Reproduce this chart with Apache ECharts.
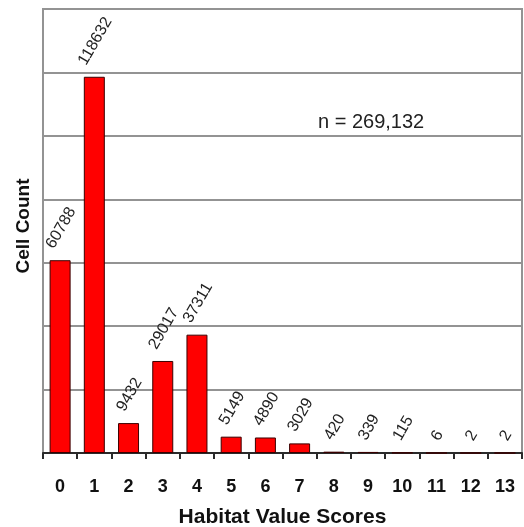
<!DOCTYPE html>
<html>
<head>
<meta charset="utf-8">
<title>Habitat Value Scores</title>
<script src="https://cdn.jsdelivr.net/npm/echarts@6/dist/echarts.min.js"></script>
<style>
  html, body { margin: 0; padding: 0; background: #ffffff; }
  #chart { width: 524px; height: 527px; }
</style>
</head>
<body>
<div id="chart"></div>
<script>
// Habitat value score categories and the number of cells in each
const categories = ['0', '1', '2', '3', '4', '5', '6', '7', '8', '9', '10', '11', '12', '13'];
const cellCounts = [60788, 118632, 9432, 29017, 37311, 5149, 4890, 3029, 420, 339, 115, 6, 2, 2];

// Value axis range (no tick labels are shown, only gridlines)
const yMin = 0;
const yMax = 140000;
const yInterval = 20000;

const xAxisTitle = 'Habitat Value Scores';
const yAxisTitle = 'Cell Count';
const totalLabel = 'n = 269,132';

const FONT = '"Liberation Sans", Arial, sans-serif';
const VALUE_FONT_SIZE = 16;
const VALUE_ROTATE = 60;

// Measure label text so rotated labels can sit centred above each bar
const measureCtx = document.createElement('canvas').getContext('2d');
measureCtx.font = VALUE_FONT_SIZE + 'px ' + FONT;
function textWidth(s) { return measureCtx.measureText(s).width; }

const chart = echarts.init(document.getElementById('chart'), null, { renderer: 'canvas' });

const rad = VALUE_ROTATE * Math.PI / 180;

chart.setOption({
  backgroundColor: '#ffffff',
  animation: false,
  grid: {
    left: 43, right: 2, top: 9, bottom: 74,
    outerBoundsMode: 'none',
    containLabel: false,
    show: true,
    borderColor: '#939393',
    borderWidth: 2,
    backgroundColor: 'transparent'
  },
  xAxis: {
    type: 'category',
    data: categories,
    boundaryGap: true,
    axisLine: { show: true, lineStyle: { color: '#2a2a2a', width: 2 } },
    axisTick: { show: true, alignWithLabel: false, length: 6, lineStyle: { color: '#2a2a2a', width: 2 } },
    axisLabel: {
      color: '#111', fontFamily: FONT, fontWeight: 'bold', fontSize: 18, margin: 25, interval: 0
    },
    name: xAxisTitle,
    nameLocation: 'middle',
    nameGap: 54,
    nameTextStyle: { color: '#111', fontFamily: FONT, fontWeight: 'bold', fontSize: 21 }
  },
  yAxis: {
    type: 'value',
    min: yMin, max: yMax, interval: yInterval,
    axisLine: { show: true, lineStyle: { color: '#939393', width: 2 } },
    axisTick: { show: false },
    axisLabel: { show: false },
    splitLine: { show: true, lineStyle: { color: '#939393', width: 2 } },
    name: yAxisTitle,
    nameLocation: 'middle',
    nameRotate: 90,
    nameGap: 10,
    nameTextStyle: { color: '#111', fontFamily: FONT, fontWeight: 'bold', fontSize: 19, padding: [0, 0, 0, 10] }
  },
  series: [{
    type: 'bar',
    data: cellCounts,
    barWidth: 21,
    itemStyle: { color: '#ff0000', borderColor: '#3a0000', borderWidth: 1 },
    label: {
      show: true,
      position: 'top',
      rotate: VALUE_ROTATE,
      align: 'center',
      verticalAlign: 'middle',
      color: '#222',
      fontFamily: FONT,
      fontSize: VALUE_FONT_SIZE
    },
    labelLayout: function (params) {
      const r = params.rect;
      const w = textWidth(params.text);
      const half = (w * Math.sin(rad) + VALUE_FONT_SIZE * Math.cos(rad)) / 2;
      return {
        x: r.x + r.width / 2 + 1,
        y: r.y - half - 9,
        rotate: VALUE_ROTATE,
        align: 'center',
        verticalAlign: 'middle'
      };
    }
  }],
  graphic: [{
    type: 'text',
    left: 318,
    top: 112,
    z: 100,
    style: {
      text: totalLabel,
      fill: '#222',
      font: '20px ' + FONT,
      backgroundColor: '#ffffff'
    }
  }]
});
</script>
</body>
</html>
